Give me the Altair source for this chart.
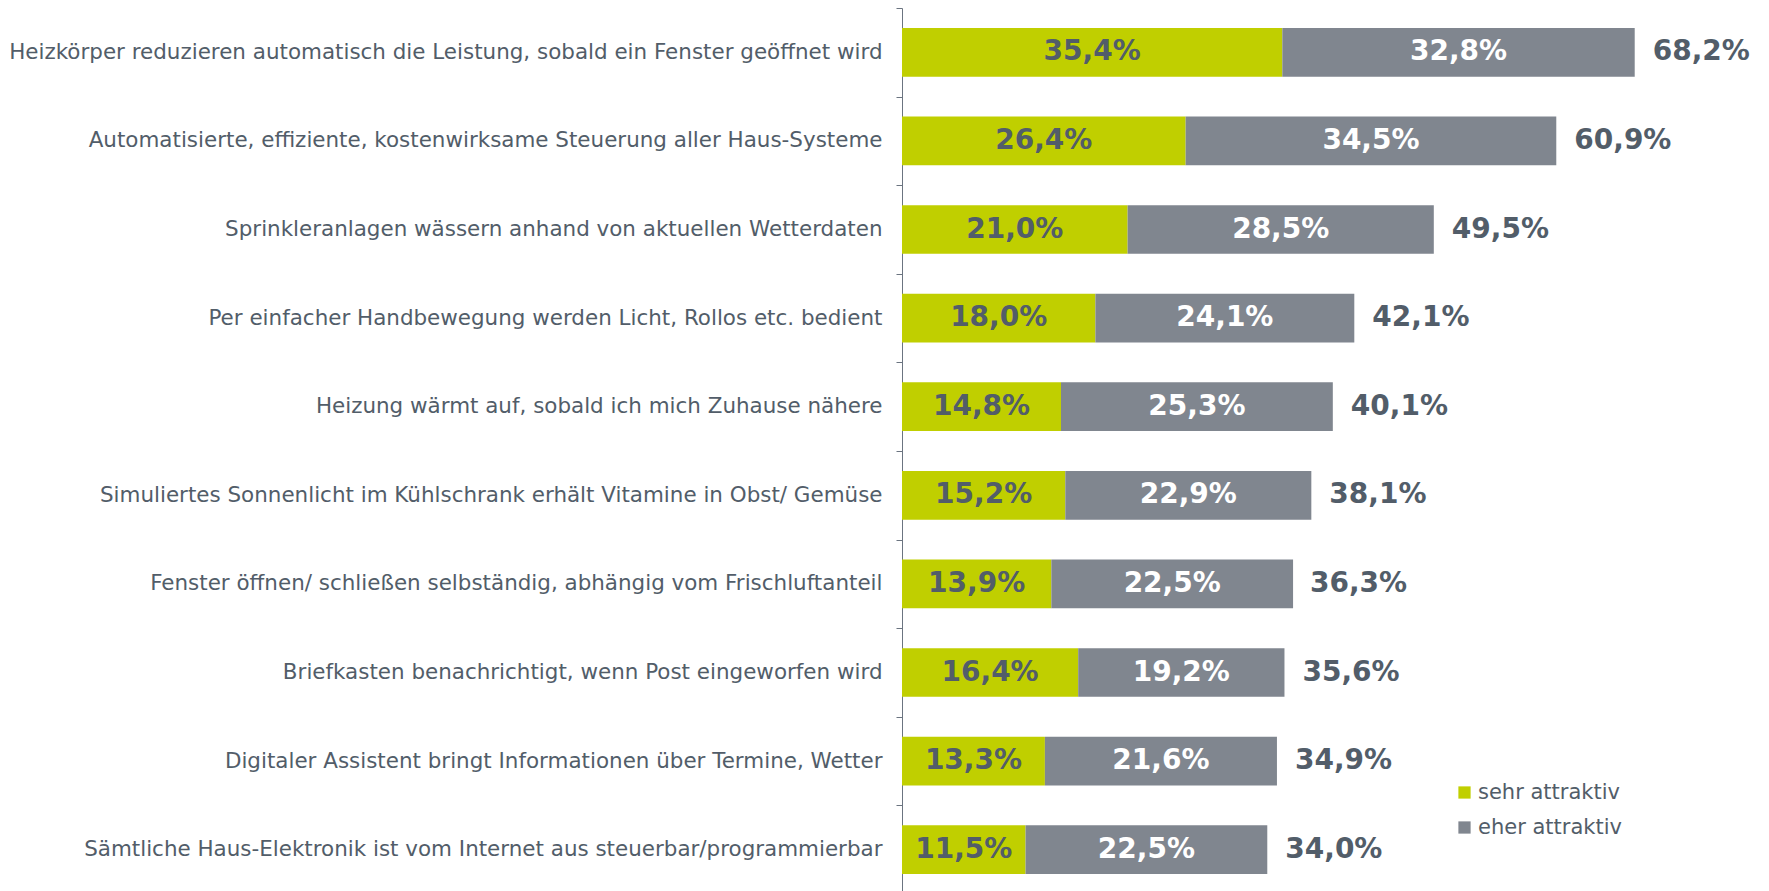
import altair as alt
import pandas as pd

categories = [
    "Heizkörper reduzieren automatisch die Leistung, sobald ein Fenster geöffnet wird",
    "Automatisierte, effiziente, kostenwirksame Steuerung aller Haus-Systeme",
    "Sprinkleranlagen wässern anhand von aktuellen Wetterdaten",
    "Per einfacher Handbewegung werden Licht, Rollos etc. bedient",
    "Heizung wärmt auf, sobald ich mich Zuhause nähere",
    "Simuliertes Sonnenlicht im Kühlschrank erhält Vitamine in Obst/ Gemüse",
    "Fenster öffnen/ schließen selbständig, abhängig vom Frischluftanteil",
    "Briefkasten benachrichtigt, wenn Post eingeworfen wird",
    "Digitaler Assistent bringt Informationen über Termine, Wetter",
    "Sämtliche Haus-Elektronik ist vom Internet aus steuerbar/programmierbar",
]
sehr = [35.4, 26.4, 21.0, 18.0, 14.8, 15.2, 13.9, 16.4, 13.3, 11.5]
eher = [32.8, 34.5, 28.5, 24.1, 25.3, 22.9, 22.5, 19.2, 21.6, 22.5]
total = [68.2, 60.9, 49.5, 42.1, 40.1, 38.1, 36.3, 35.6, 34.9, 34.0]
series = ["sehr attraktiv", "eher attraktiv"]

GREEN = "#c0cf00"
GREY = "#80868f"
TEXT = "#525d69"
FONT = "DejaVu Sans"

rows = []
for c, s, e, t in zip(categories, sehr, eher, total):
    rows.append({"cat": c, "series": series[0], "x0": 0.0, "x1": s, "val": s, "total": t})
    rows.append({"cat": c, "series": series[1], "x0": s, "x1": s + e, "val": e, "total": t})
df = pd.DataFrame(rows)

ysc = alt.Scale(domain=categories, paddingInner=0, paddingOuter=0)
xsc = alt.Scale(domain=[0, 78], nice=False)

y_enc = alt.Y("cat:N", scale=ysc, sort=categories, title=None,
              axis=alt.Axis(labelFont=FONT, labelFontSize=21.45, labelColor=TEXT,
                            labelLimit=2000, labelPadding=14, tickSize=6,
                            tickBand="extent", tickColor="#6b7480",
                            domainColor="#6b7480", domainWidth=1, grid=False))

base = alt.Chart(df)

bars = base.mark_bar(height={"band": 0.55}).encode(
    x=alt.X("x0:Q", scale=xsc, axis=None),
    x2="x1:Q",
    y=y_enc,
    color=alt.Color("series:N", scale=alt.Scale(domain=series, range=[GREEN, GREY]),
                    legend=alt.Legend(title=None, orient="none", legendX=552, legendY=774,
                                      symbolType="square", symbolSize=150,
                                      symbolStrokeWidth=0, labelFont=FONT,
                                      labelFontSize=21, labelColor=TEXT,
                                      rowPadding=13, labelOffset=3)),
)

inner = base.transform_calculate(
    mid="(datum.x0 + datum.x1) / 2",
    lab="replace(format(datum.val, '.1f'), '.', ',') + '%'",
).mark_text(font=FONT, fontSize=28, fontWeight="bold", align="center", baseline="middle").encode(
    x=alt.X("mid:Q", scale=xsc),
    y=alt.Y("cat:N", scale=ysc, sort=categories),
    text="lab:N",
    color=alt.Color("series:N", scale=alt.Scale(domain=series, range=[TEXT, "#ffffff"]), legend=None),
)

totals = base.transform_filter(alt.datum.series == series[1]).transform_calculate(
    lab="replace(format(datum.total, '.1f'), '.', ',') + '%'",
).mark_text(font=FONT, fontSize=28, fontWeight="bold", align="left", baseline="middle", dx=18,
            color=TEXT).encode(
    x=alt.X("total:Q", scale=xsc),
    y=alt.Y("cat:N", scale=ysc, sort=categories),
    text="lab:N",
)

chart = alt.layer(bars, inner, totals).resolve_scale(color="independent").properties(
    width=838, height=886, background="white",
    padding={"left": 0, "top": -11, "right": 0, "bottom": 0},
).configure_view(stroke=None)

chart.save("out.html", embed_options={"renderer": "svg", "actions": False})
